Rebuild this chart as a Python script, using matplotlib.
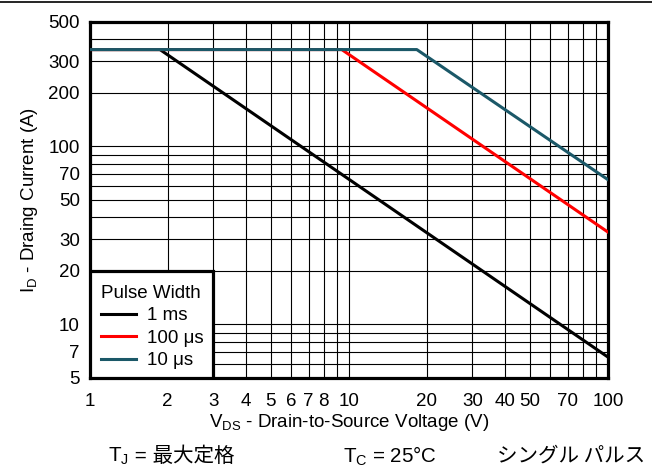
import numpy as np
import matplotlib.pyplot as plt
from matplotlib.patches import Rectangle
from matplotlib.lines import Line2D

plt.rcParams['font.family'] = ['Liberation Sans', 'Noto Sans CJK JP']
plt.rcParams['mathtext.fontset'] = 'custom'
plt.rcParams['mathtext.rm'] = 'Liberation Sans'
plt.rcParams['mathtext.it'] = 'Liberation Sans'

# safe operating area, single pulse
vds_1ms = [1, 1.87, 100]
id_1ms = [350, 350, 6.55]
vds_100us = [1, 9.4, 100]
id_100us = [350, 350, 33]
vds_10us = [1, 18.3, 100]
id_10us = [350, 350, 65]

xticks = [1, 2, 3, 4, 5, 6, 7, 8, 9, 10, 20, 30, 40, 50, 60, 70, 80, 90, 100]
xlabels = ["1", "2", "3", "4", "5", "6", "7", "8", "", "10", "20", "30", "40", "50", "", "70", "", "", "100"]
yticks = [5, 6, 7, 8, 9, 10, 20, 30, 40, 50, 60, 70, 80, 90, 100, 200, 300, 400, 500]
ylabels = ["5", "", "7", "", "", "10", "20", "30", "", "50", "", "70", "", "", "100", "200", "300", "", "500"]

fs = 13.5
fs_note = 14.8

fig = plt.figure(figsize=(6.52, 4.74), dpi=100)
ax = fig.add_axes([89.5 / 652, 1 - 378 / 474, (608 - 89.5) / 652, (378 - 22) / 474])
ax.set_xscale('log')
ax.set_yscale('log')

ax.plot(vds_1ms, id_1ms, color='black', lw=2.2, label='1 ms', zorder=3)
ax.plot(vds_100us, id_100us, color='#ff0000', lw=2.2, label='100 μs', zorder=3)
ax.plot(vds_10us, id_10us, color='#1b5868', lw=2.2, label='10 μs', zorder=3)

ax.set_xlim(1, 100)
ax.set_ylim(5, 500)
ax.set_xticks(xticks)
ax.set_xticklabels(xlabels, fontsize=fs)
ax.set_yticks(yticks)
ax.set_yticklabels(ylabels, fontsize=fs)
ax.minorticks_off()
ax.tick_params(length=0)
ax.tick_params(axis='x', pad=10.5)
ax.tick_params(axis='y', pad=7)
ax.grid(True, color='black', lw=0.8)
for s in ax.spines.values():
    s.set_linewidth(2.3)

ax.set_xlabel('V$_{\\mathrm{DS}}$ - Drain-to-Source Voltage (V)', fontsize=fs, labelpad=2)
ax.set_ylabel('I$_{\\mathrm{D}}$ - Draing Current (A)', fontsize=fs, labelpad=6)

box = Rectangle((1, 5), 2, 15, facecolor='white', edgecolor='black', lw=2.3, zorder=4)
ax.add_patch(box)
leg = ax.legend(loc='upper left', bbox_to_anchor=(-0.004, 0.298), frameon=False,
                title='Pulse Width', fontsize=fs, title_fontsize=fs,
                handlelength=1.9, handletextpad=0.6, labelspacing=0.28,
                borderaxespad=0.3, alignment='left')
leg.set_zorder(5)
for h in leg.get_lines():
    h.set_linewidth(2.2)

fig.add_artist(Line2D([0, 1], [0.996, 0.996], color='black', lw=1.2))

r = fig.canvas.get_renderer()
ty = 1 - 456 / 474
t1 = fig.text(108 / 652, ty, 'T$_{\\mathrm{J}}$', fontsize=fs_note, va='center')
bb = t1.get_window_extent(r)
fig.text(bb.x1 / 652, ty, ' = 最大定格', fontsize=fs_note, va='center')
fig.text(343 / 652, ty, 'T$_{\\mathrm{C}}$ = 25°C', fontsize=fs_note, va='center')
fig.text(497 / 652, ty, 'シングル パルス', fontsize=fs_note, va='center',
         family=['Noto Sans CJK JP'])

fig.savefig('out.png', dpi=100)
